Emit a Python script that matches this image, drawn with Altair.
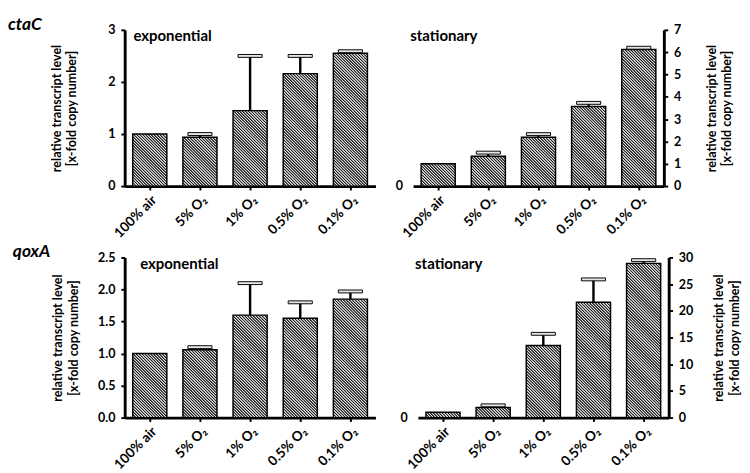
import math
import altair as alt

# ---------------- data ----------------
conditions = ["100% air", "5% O₂", "1% O₂", "0.5% O₂", "0.1% O₂"]

ctaC_exp_mean = [1.00, 0.94, 1.45, 2.16, 2.55]
ctaC_exp_upper = [None, 1.00, 2.50, 2.50, 2.59]
ctaC_sta_mean = [1.00, 1.34, 2.19, 3.57, 6.12]
ctaC_sta_upper = [None, 1.50, 2.33, 3.73, 6.20]
qoxA_exp_mean = [1.00, 1.06, 1.60, 1.55, 1.85]
qoxA_exp_upper = [None, 1.10, 2.10, 1.80, 1.97]
qoxA_sta_mean = [1.0, 1.9, 13.5, 21.6, 28.9]
qoxA_sta_upper = [None, 2.3, 15.7, 25.9, 29.5]

ctaC_exp_ticks = [0, 1, 2, 3]
ctaC_sta_ticks = [0, 1, 2, 3, 4, 5, 6, 7]
qoxA_exp_ticks = [0.0, 0.5, 1.0, 1.5, 2.0, 2.5]
qoxA_sta_ticks = [0, 5, 10, 15, 20, 25, 30]

genes = ["ctaC", "qoxA"]
phases = ["exponential", "stationary"]
y_title = ["relative transcript level", "[x-fold copy number]"]

# ---------------- style ----------------
FONT = "Lato"
W = 260
H_TOP = 162
H_BOT = 166
PAD_IN, PAD_OUT = 0.32, 0.16
BAND_W = W / 5 * (1 - PAD_IN)
HATCH_P = 3.0          # stripe period along x-y (px)
DMAX = BAND_W + max(H_TOP, H_BOT) + 2
DARK, LIGHT = "#1e1e1e", "#e0e0e0"

n_per = int(math.ceil(DMAX / HATCH_P))
hatch_stops = []
for k in range(n_per):
    for frac, col in ((0.0, DARK), (0.25, DARK), (0.6, LIGHT), (0.85, LIGHT)):
        hatch_stops.append({"offset": round(min((k + frac) * HATCH_P / DMAX, 1), 5),
                            "color": col})


def hatch(h_px):
    """45-degree stripes for a bar of bandwidth BAND_W and pixel height h_px."""
    w = BAND_W
    h = max(h_px, 0.5)
    d = w * w + h * h
    return {
        "gradient": "linear",
        "x1": 0, "y1": 1,
        "x2": DMAX * w / d, "y2": 1 - DMAX * h / d,
        "stops": hatch_stops,
    }


def records(means, uppers, ymax, height):
    out = []
    for c, m, u in zip(conditions, means, uppers):
        out.append({"cond": c, "mean": m, "upper": u,
                    "grad": hatch(m / ymax * height)})
    return out


def panel(means, uppers, ticks, height, side, phase, fmt, title_pad,
          label_x, gene=None, gene_x=0, gene_y=0):
    ymax = ticks[-1]
    recs = records(means, uppers, ymax, height)
    data = alt.Data(values=recs)
    err = alt.Data(values=[r for r in recs if r["upper"] is not None])

    xenc = alt.X("cond:N", sort=conditions, title=None,
                 scale=alt.Scale(paddingInner=PAD_IN, paddingOuter=PAD_OUT),
                 axis=alt.Axis(labelAngle=-45, labelPadding=3, tickSize=4,
                               tickWidth=2, labelFontSize=14))
    yscale = alt.Scale(domain=[0, ymax], nice=False, zero=True)
    main_axis = alt.Axis(orient=side, values=ticks, format=fmt, title=y_title,
                         titleAngle=270, titlePadding=title_pad,
                         titleLineHeight=16, labelPadding=6, grid=False)

    bars = alt.Chart(data).mark_bar(stroke="black", strokeWidth=1.5).encode(
        x=xenc,
        y=alt.Y("mean:Q", scale=yscale, axis=main_axis, stack=None),
        fill=alt.Fill("grad:N", scale=None, legend=None),
    )
    if side == "right":
        rule_axis = alt.Axis(orient="left", values=[0], domain=False, ticks=False,
                             title=None, labelPadding=11, grid=False)
        cap_axis = None
    else:
        rule_axis = main_axis
        cap_axis = main_axis
    stems = alt.Chart(err).mark_rule(color="black", strokeWidth=2.5).encode(
        x=xenc,
        y=alt.Y("mean:Q", scale=yscale, axis=rule_axis),
        y2="upper:Q",
    )
    caps = alt.Chart(err).mark_tick(size=25, thickness=3, fill="#e6e6e6",
                                    stroke="black", strokeWidth=1,
                                    opacity=1).encode(
        x=xenc,
        y=alt.Y("upper:Q", scale=yscale, axis=cap_axis),
    )
    label = alt.Chart(alt.Data(values=[{"t": phase}])).mark_text(
        font=FONT, fontSize=15.5, fontWeight="bold", align="left",
        baseline="alphabetic", color="black").encode(
        text="t:N", x=alt.value(label_x), y=alt.value(12))
    layers = [bars, stems, caps, label]
    if gene is not None:
        glabel = alt.Chart(alt.Data(values=[{"g": gene}])).mark_text(
            font=FONT, fontSize=18, fontWeight="bold", fontStyle="italic",
            align="left", baseline="top", color="black").encode(
            text="g:N", x=alt.value(gene_x), y=alt.value(gene_y))
        layers.append(glabel)
    ch = alt.layer(*layers).properties(width=W, height=height)
    if side == "right":
        ch = ch.resolve_axis(y="independent")
    return ch


tl = panel(ctaC_exp_mean, ctaC_exp_upper, ctaC_exp_ticks, H_TOP, "left",
           phases[0], "d", 30, 9, gene=genes[0], gene_x=-121, gene_y=-14)
tr = panel(ctaC_sta_mean, ctaC_sta_upper, ctaC_sta_ticks, H_TOP, "right",
           phases[1], "d", 23, -3)
bl = panel(qoxA_exp_mean, qoxA_exp_upper, qoxA_exp_ticks, H_BOT, "left",
           phases[0], ".1f", 18, 16, gene=genes[1], gene_x=-116, gene_y=-15)
br = panel(qoxA_sta_mean, qoxA_sta_upper, qoxA_sta_ticks, H_BOT, "right",
           phases[1], "d", 18, -3)

chart = alt.vconcat(
    alt.hconcat(tl, tr, spacing=20),
    alt.hconcat(bl, br, spacing=25),
    spacing=3,
).properties(
    padding={"left": 0, "top": 0, "right": 0, "bottom": 0}
).configure_view(stroke=None).configure_axis(
    domainColor="black", domainWidth=3, tickColor="black", tickWidth=2,
    tickSize=4, labelFont=FONT, labelFontWeight="bold", labelFontSize=13,
    labelColor="black", titleFont=FONT, titleFontWeight="bold",
    titleFontSize=13, titleColor="black",
)

chart.save("out.html", embed_options={"renderer": "svg", "actions": False})
